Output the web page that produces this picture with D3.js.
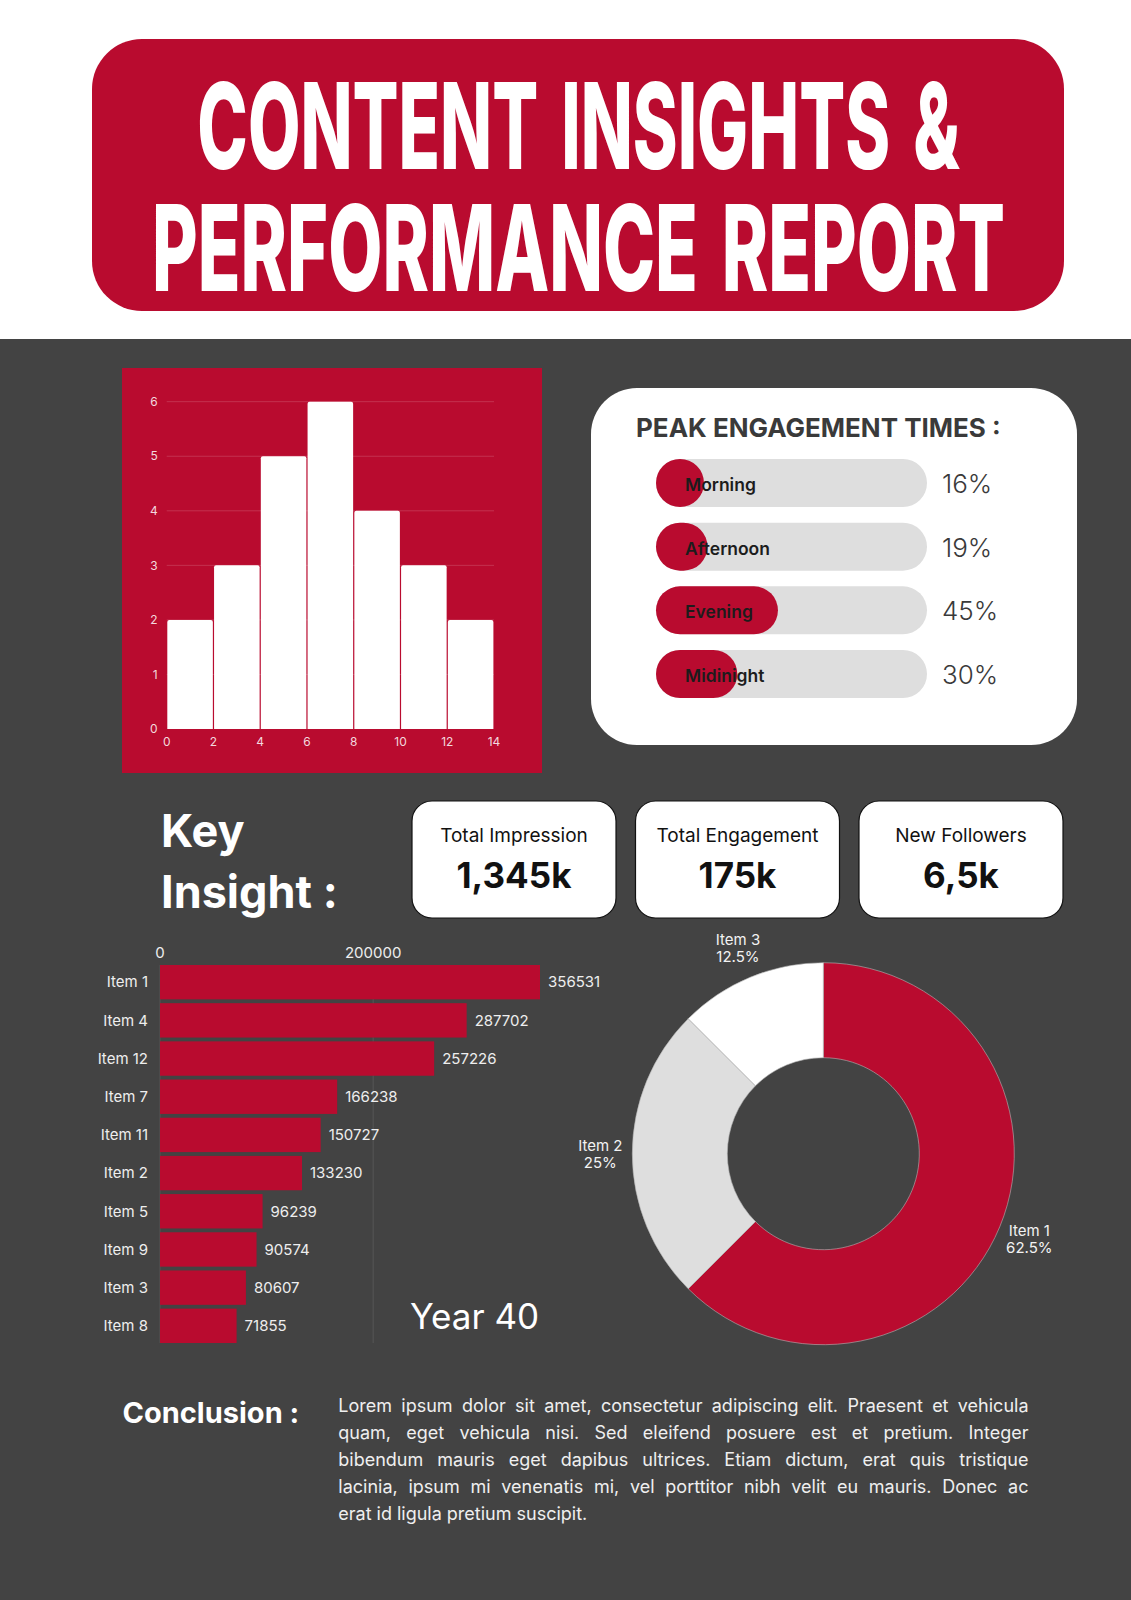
<!DOCTYPE html>
<html>
<head>
<meta charset="utf-8">
<script src="https://cdn.jsdelivr.net/npm/d3@7"></script>
<style>
  html, body { margin: 0; padding: 0; background: #ffffff; }
  svg { display: block; font-family: Inter, "Noto Sans", "DejaVu Sans", sans-serif; }
</style>
</head>
<body>
<svg id="chart" width="1131" height="1600"></svg>
<script>
// ---------------- DATA ----------------
const titleLines = ["CONTENT INSIGHTS &", "PERFORMANCE REPORT"];

const histBinStart = [0, 2, 4, 6, 8, 10, 12];
const histBinEnd   = [2, 4, 6, 8, 10, 12, 14];
const histCounts   = [2, 3, 5, 6, 4, 3, 2];
const histXTicks   = [0, 2, 4, 6, 8, 10, 12, 14];
const histYTicks   = [0, 1, 2, 3, 4, 5, 6];

const peakTitle = "PEAK ENGAGEMENT TIMES :";
const peakTimes = ["Morning", "Afternoon", "Evening", "Midinight"];
const peakPct   = [16, 19, 45, 30];

const kpiLabels = ["Total Impression", "Total Engagement", "New Followers"];
const kpiValues = ["1,345k", "175k", "6,5k"];

const barItems  = ["Item 1", "Item 4", "Item 12", "Item 7", "Item 11", "Item 2", "Item 5", "Item 9", "Item 3", "Item 8"];
const barValues = [356531, 287702, 257226, 166238, 150727, 133230, 96239, 90574, 80607, 71855];
const barTicks  = [0, 200000];
const barYearLabel = "Year 40";

const donutItems  = ["Item 1", "Item 2", "Item 3"];
const donutValues = [62.5, 25, 12.5];

const conclusionTitle = "Conclusion :";
const conclusionLines = [
  "Lorem ipsum dolor sit amet, consectetur adipiscing elit. Praesent et vehicula",
  "quam, eget vehicula nisi. Sed eleifend posuere est et pretium. Integer",
  "bibendum mauris eget dapibus ultrices. Etiam dictum, erat quis tristique",
  "lacinia, ipsum mi venenatis mi, vel porttitor nibh velit eu mauris. Donec ac",
  "erat id ligula pretium suscipit."
];

// ---------------- STYLE ----------------
const RED = "#b90b2f";
const DARK = "#434343";
const LIGHTGRAY = "#dedede";

const svg = d3.select("#chart");

// backgrounds
svg.append("rect").attr("x", 0).attr("y", 0).attr("width", 1131).attr("height", 339).attr("fill", "#ffffff");
svg.append("rect").attr("x", 0).attr("y", 339).attr("width", 1131).attr("height", 1261).attr("fill", DARK);

// ---------------- TITLE ----------------
svg.append("rect").attr("x", 92).attr("y", 39).attr("width", 972).attr("height", 272)
  .attr("rx", 50).attr("fill", RED);
const titleSpecs = [{ y: 169, w: 763 }, { y: 291, w: 853 }];
titleLines.forEach((t, i) => {
  const g = svg.append("g");
  const tx = g.append("text")
    .attr("x", 0).attr("y", 0)
    .attr("text-anchor", "middle")
    .attr("font-size", 120)
    .attr("font-weight", 800)
    .attr("word-spacing", "0.12em")
    .attr("fill", "#ffffff")
    .text(t);
  const nat = tx.node().getBBox().width;
  const sx = titleSpecs[i].w / nat;
  g.attr("transform", `translate(578.5,${titleSpecs[i].y}) scale(${sx},1)`);
});

// ---------------- HISTOGRAM ----------------
svg.append("rect").attr("x", 122).attr("y", 368).attr("width", 420).attr("height", 405).attr("fill", RED);
const hx = d3.scaleLinear().domain([0, 14]).range([166.7, 494]);
const hy = d3.scaleLinear().domain([0, 6]).range([729, 401.7]);
const hg = svg.append("g");
hg.selectAll("line.grid").data(histYTicks.slice(1)).join("line")
  .attr("x1", hx(0)).attr("x2", hx(14))
  .attr("y1", d => hy(d)).attr("y2", d => hy(d))
  .attr("stroke", "rgba(255,255,255,0.16)").attr("stroke-width", 1);
const histData = histCounts.map((c, i) => ({ x0: histBinStart[i], x1: histBinEnd[i], c }));
hg.selectAll("path.bar").data(histData).join("path")
  .attr("fill", "#ffffff")
  .attr("d", d => {
    const x0 = hx(d.x0) + 0.6, x1 = hx(d.x1) - 0.6, y0 = hy(0), y1 = hy(d.c), r = 2;
    return `M${x0},${y0}V${y1 + r}Q${x0},${y1} ${x0 + r},${y1}H${x1 - r}Q${x1},${y1} ${x1},${y1 + r}V${y0}Z`;
  });
hg.selectAll("text.yt").data(histYTicks).join("text")
  .attr("x", hx(0) - 9).attr("y", d => hy(d)).attr("dy", "0.35em")
  .attr("text-anchor", "end").attr("font-size", 12).attr("fill", "rgba(255,255,255,0.85)")
  .text(d => d);
hg.selectAll("text.xt").data(histXTicks).join("text")
  .attr("x", d => hx(d)).attr("y", 746)
  .attr("text-anchor", "middle").attr("font-size", 12).attr("fill", "rgba(255,255,255,0.85)")
  .text(d => d);

// ---------------- PEAK ENGAGEMENT ----------------
svg.append("rect").attr("x", 591).attr("y", 388).attr("width", 486).attr("height", 357)
  .attr("rx", 46).attr("fill", "#ffffff");
svg.append("text").attr("x", 636).attr("y", 437)
  .attr("font-size", 26).attr("font-weight", 700).attr("fill", "#3a3a3a")
  .text(peakTitle);
const py = d3.scaleBand().domain(peakTimes).range([459, 698]).paddingInner(0.2465).paddingOuter(0);
const trackX = 656, trackW = 271;
const pw = d3.scaleLinear().domain([0, 100]).range([0, trackW]);
const bh = py.bandwidth();
const pg = svg.append("g");
pg.selectAll("rect.track").data(peakTimes).join("rect")
  .attr("x", trackX).attr("y", d => py(d)).attr("width", trackW).attr("height", bh)
  .attr("rx", bh / 2).attr("fill", LIGHTGRAY);
pg.selectAll("rect.fill").data(peakTimes).join("rect")
  .attr("x", trackX).attr("y", d => py(d))
  .attr("width", (d, i) => Math.max(pw(peakPct[i]), bh)).attr("height", bh)
  .attr("rx", bh / 2).attr("fill", RED);
pg.selectAll("text.lab").data(peakTimes).join("text")
  .attr("x", 685).attr("y", d => py(d) + 32)
  .attr("font-size", 17.5).attr("font-weight", 600).attr("fill", "#1c1c1c")
  .text(d => d);
pg.selectAll("text.pct").data(peakTimes).join("text")
  .attr("x", 942).attr("y", d => py(d) + 34)
  .attr("font-size", 26).attr("font-weight", 300).attr("fill", "#3a3a3a")
  .text((d, i) => peakPct[i] + "%");

// ---------------- KEY INSIGHT ----------------
svg.append("text").attr("x", 161).attr("y", 847)
  .attr("font-size", 45).attr("font-weight", 700).attr("fill", "#ffffff").text("Key");
svg.append("text").attr("x", 161).attr("y", 908)
  .attr("font-size", 45).attr("font-weight", 700).attr("fill", "#ffffff").text("Insight :");

const kx = d3.scaleBand().domain(kpiLabels).range([412, 1063]).paddingInner(0.0872).paddingOuter(0);
const kg = svg.append("g");
kg.selectAll("rect.kpi").data(kpiLabels).join("rect")
  .attr("x", d => kx(d)).attr("y", 801).attr("width", kx.bandwidth()).attr("height", 117)
  .attr("rx", 20).attr("fill", "#ffffff").attr("stroke", "#111111").attr("stroke-width", 1.2);
kg.selectAll("text.kl").data(kpiLabels).join("text")
  .attr("x", d => kx(d) + kx.bandwidth() / 2).attr("y", 841.5)
  .attr("text-anchor", "middle").attr("font-size", 19).attr("fill", "#111111")
  .text(d => d);
kg.selectAll("text.kv").data(kpiLabels).join("text")
  .attr("x", d => kx(d) + kx.bandwidth() / 2).attr("y", 887.5)
  .attr("text-anchor", "middle").attr("font-size", 35).attr("font-weight", 700).attr("fill", "#111111")
  .text((d, i) => kpiValues[i]);

// ---------------- HORIZONTAL BARS ----------------
const bx = d3.scaleLinear().domain([0, d3.max(barValues)]).range([160, 540]);
const by = d3.scaleBand().domain(barItems).range([965, 1343]).paddingInner(0.1).paddingOuter(0);
const bg = svg.append("g");
bg.selectAll("line.bgrid").data(barTicks).join("line")
  .attr("x1", d => bx(d)).attr("x2", d => bx(d)).attr("y1", 965).attr("y2", 1343)
  .attr("stroke", "#555555").attr("stroke-width", 1);
bg.selectAll("text.btick").data(barTicks).join("text")
  .attr("x", d => bx(d)).attr("y", 958).attr("text-anchor", "middle")
  .attr("font-size", 15).attr("fill", "#eeeeee").text(d => d);
bg.selectAll("rect.hbar").data(barItems).join("rect")
  .attr("x", bx(0)).attr("y", d => by(d))
  .attr("width", (d, i) => bx(barValues[i]) - bx(0)).attr("height", by.bandwidth())
  .attr("fill", RED);
bg.selectAll("text.bitem").data(barItems).join("text")
  .attr("x", 148).attr("y", d => by(d) + by.bandwidth() / 2).attr("dy", "0.35em")
  .attr("text-anchor", "end").attr("font-size", 15).attr("fill", "#eeeeee").text(d => d);
bg.selectAll("text.bval").data(barItems).join("text")
  .attr("x", (d, i) => bx(barValues[i]) + 8).attr("y", d => by(d) + by.bandwidth() / 2).attr("dy", "0.35em")
  .attr("font-size", 15).attr("fill", "#eeeeee").text((d, i) => barValues[i]);
bg.append("text").attr("x", 410).attr("y", 1329)
  .attr("font-size", 35).attr("fill", "#ffffff").text(barYearLabel);

// ---------------- DONUT ----------------
const dcx = 823.3, dcy = 1153.7, rOut = 191, rIn = 96, rLab = 223;
const pie = d3.pie().sort(null).value(d => d.v);
const donutData = pie(donutItems.map((n, i) => ({ n, v: donutValues[i] })));
const dColor = d3.scaleOrdinal().domain(donutItems).range([RED, LIGHTGRAY, "#ffffff"]);
const arc = d3.arc().innerRadius(rIn).outerRadius(rOut);
const labArc = d3.arc().innerRadius(rLab).outerRadius(rLab);
const dg = svg.append("g").attr("transform", `translate(${dcx},${dcy})`);
dg.selectAll("path").data(donutData).join("path")
  .attr("d", arc).attr("fill", d => dColor(d.data.n))
  .attr("stroke", "#b5b5b5").attr("stroke-width", 0.6);
const dl = dg.selectAll("text.dl").data(donutData).join("text")
  .attr("transform", d => `translate(${labArc.centroid(d)})`)
  .attr("text-anchor", "middle").attr("font-size", 15).attr("fill", "#f2f2f2");
dl.append("tspan").attr("x", 0).attr("y", -3).text(d => d.data.n);
dl.append("tspan").attr("x", 0).attr("y", 14).text(d => d.data.v + "%");

// ---------------- CONCLUSION ----------------
svg.append("text").attr("x", 122.5).attr("y", 1423)
  .attr("font-size", 29).attr("font-weight", 700).attr("fill", "#ffffff").text(conclusionTitle);
const px0 = 338.3, px1 = 1028.5, pBase = 1411.7, pLead = 27;
const cg = svg.append("g").attr("font-size", 18).attr("fill", "#efefef");
conclusionLines.forEach((line, li) => {
  const words = line.split(" ");
  const y = pBase + li * pLead;
  const nodes = words.map(w => cg.append("text").attr("y", y).text(w));
  const widths = nodes.map(n => n.node().getComputedTextLength());
  const total = d3.sum(widths);
  const last = li === conclusionLines.length - 1;
  const gap = last ? 5 : (px1 - px0 - total) / (words.length - 1);
  let x = px0;
  nodes.forEach((n, i) => { n.attr("x", x); x += widths[i] + gap; });
});
</script>
</body>
</html>
